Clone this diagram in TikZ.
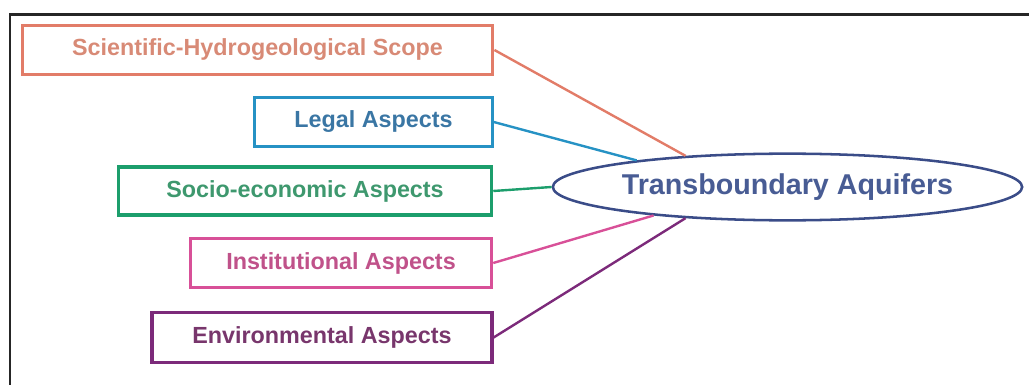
\documentclass[tikz,border=0pt]{standalone}
\usepackage{fontspec}
\setmainfont{Liberation Sans}
\usepackage{tikz}
\usetikzlibrary{shapes.geometric}

\definecolor{sciline}{RGB}{226,124,104}
\definecolor{scitext}{RGB}{216,138,118}
\definecolor{legline}{RGB}{38,146,196}
\definecolor{legtext}{RGB}{58,118,164}
\definecolor{socline}{RGB}{28,158,108}
\definecolor{soctext}{RGB}{62,152,110}
\definecolor{insline}{RGB}{216,80,152}
\definecolor{instext}{RGB}{192,82,138}
\definecolor{envline}{RGB}{124,42,122}
\definecolor{envtext}{RGB}{120,54,108}
\definecolor{aqline}{RGB}{58,76,136}
\definecolor{aqtext}{RGB}{72,92,148}

\begin{document}
\begin{tikzpicture}[x=0.75pt, y=-0.75pt,
    aspect/.style={draw, line width=2.4pt, rectangle, inner sep=0pt,
        minimum height=37pt, font=\fontsize{17.5}{20}\selectfont\bfseries},
    link/.style={line width=1.8pt}]
    \useasboundingbox (0,0) rectangle (1029,385);
    % Frame (top and left only)
    \draw[line width=1.6pt, black!85] (10,385) -- (10,14.5) -- (1029,14.5);

    % Draw the aspect boxes
    \node[aspect, draw=sciline, text=scitext, minimum width=353pt] (sci) at (257.5,50) {Scientific-Hydrogeological Scope};
    \node[aspect, draw=legline, text=legtext, minimum width=178pt] (legal) at (373.5,122) {Legal Aspects};
    \node[aspect, draw=socline, text=soctext, minimum width=280pt, minimum height=36pt] (socio) at (305,191) {Socio-economic Aspects};
    \node[aspect, draw=insline, text=instext, minimum width=226pt] (inst) at (341,263) {Institutional Aspects};
    \node[aspect, draw=envline, text=envtext, minimum width=255pt, minimum height=38pt] (env) at (322,337.5) {Environmental Aspects};

    % The central ellipse
    \node[ellipse, draw=aqline, line width=1.9pt, text=aqtext, inner sep=0pt,
        minimum width=352pt, minimum height=50pt,
        font=\fontsize{21.5}{24}\selectfont\bfseries] (aquifer) at (787.5,187) {Transboundary Aquifers};

    % Connect every box to the ellipse
    \draw[link, sciline] (sci.east) -- (aquifer.163);
    \draw[link, legline] (legal.east) -- (aquifer.170);
    \draw[link, socline] (socio.east) -- (aquifer.west);
    \draw[link, insline] (inst.east) -- (aquifer.192);
    \draw[link, envline] (env.east) -- (aquifer.197);
\end{tikzpicture}
\end{document}
